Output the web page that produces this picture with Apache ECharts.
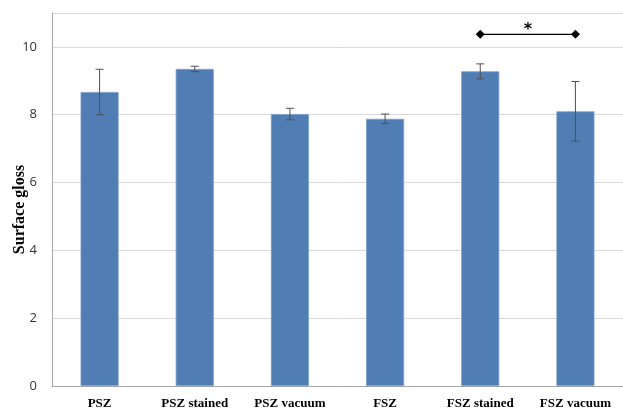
<!DOCTYPE html>
<html><head><meta charset="utf-8">
<script src="https://cdn.jsdelivr.net/npm/echarts@6/dist/echarts.min.js"></script>
<style>html,body{margin:0;padding:0;background:#fff}#c{width:623px;height:409px}</style>
</head><body><div id="c"></div>
<script>
const categories = ['PSZ','PSZ stained','PSZ vacuum','FSZ','FSZ stained','FSZ vacuum'];
const values = [8.67, 9.35, 8.02, 7.88, 9.28, 8.10];
const errors = [0.67, 0.08, 0.17, 0.14, 0.22, 0.88];
const yTicks = [0, 2, 4, 6, 8, 10];
const sigBracket = [null, null, null, null, 10.37, 10.37];
const sigPair = [4, 5];
const sigLevel = 10.37;
const sigLabel = '*';

const chart = echarts.init(document.getElementById('c'));
chart.setOption({
  animation: false,
  grid: {left: 52, right: 0, top: 13, bottom: 23, containLabel: false, outerBoundsMode: 'none'},
  xAxis: {
    type: 'category', data: categories,
    axisLine: {lineStyle: {color: '#a6a6a6', width: 1}},
    axisTick: {show: false},
    axisLabel: {fontFamily: 'Liberation Serif', fontWeight: 'bold', fontSize: 13, color: '#000', margin: 11, interval: 0}
  },
  yAxis: {
    type: 'value', min: 0, max: 11, interval: 2,
    name: 'Surface gloss', nameLocation: 'middle', nameGap: 24, nameMoveOverlap: false,
    nameTextStyle: {fontFamily: 'Liberation Serif', fontWeight: 'bold', fontSize: 16, color: '#000', padding: [0, 20, 0, 0]},
    axisLine: {show: true, lineStyle: {color: '#a6a6a6', width: 1}},
    axisTick: {show: false},
    axisLabel: {fontFamily: 'Open Sans', fontSize: 13, color: '#333', margin: 15,
      formatter: v => yTicks.includes(v) ? String(v) : ''},
    splitLine: {lineStyle: {color: '#d9d9d9', width: 1}}
  },
  series: [
    {
      type: 'bar', data: values, barWidth: '40%',
      itemStyle: {color: '#4f7db4', borderColor: '#7a9fcc', borderWidth: 0.8}
    },
    {
      type: 'custom',
      renderItem: function (params, api) {
        const i = api.value(0);
        const v = api.value(1);
        const e = api.value(2);
        const top = api.coord([i, v + e]);
        const bot = api.coord([i, v - e]);
        const cap = 4;
        const st = {stroke: '#505050', lineWidth: 1};
        return {type: 'group', children: [
          {type: 'line', shape: {x1: top[0], y1: top[1], x2: bot[0], y2: bot[1]}, style: st},
          {type: 'line', shape: {x1: top[0]-cap, y1: top[1], x2: top[0]+cap, y2: top[1]}, style: st},
          {type: 'line', shape: {x1: bot[0]-cap, y1: bot[1], x2: bot[0]+cap, y2: bot[1]}, style: st}
        ]};
      },
      data: values.map((v, i) => [i, v, errors[i]]),
      z: 5
    },
    {
      type: 'line', data: sigBracket,
      symbol: 'diamond', symbolSize: 9,
      lineStyle: {color: '#000', width: 1.3},
      itemStyle: {color: '#000'},
      z: 6
    },
    {
      type: 'custom',
      renderItem: function (params, api) {
        const a = api.coord([api.value(0), api.value(2)]);
        const b = api.coord([api.value(1), api.value(2)]);
        return {type: 'text', style: {text: sigLabel, x: (a[0] + b[0]) / 2, y: a[1] + 3,
          align: 'center', verticalAlign: 'bottom', fill: '#000', font: 'bold 16px "DejaVu Sans"'}};
      },
      data: [[sigPair[0], sigPair[1], sigLevel]],
      z: 6
    }
  ]
});
</script></body></html>
